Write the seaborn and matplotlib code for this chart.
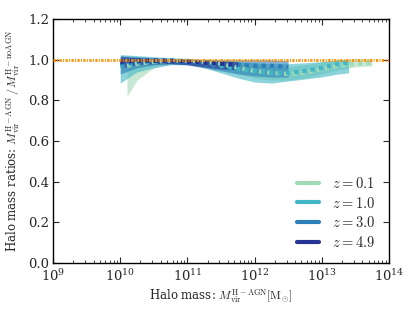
import numpy as np
import pandas as pd
import matplotlib
matplotlib.use("Agg")
import matplotlib.pyplot as plt
import seaborn as sns
from matplotlib.lines import Line2D

sns.set_style("ticks")
plt.rcParams['font.family'] = ['DejaVu Serif']
plt.rcParams['mathtext.fontset'] = 'cm'

labels = ["$z = 0.1$", "$z = 1.0$", "$z = 3.0$", "$z = 4.9$"]
colors = ["#a1dab4", "#41b6c4", "#2c7fb8", "#253494"]

logm_z01 = [10.1, 10.25, 10.5, 10.75, 11.0, 11.25, 11.5, 11.75, 12.0, 12.25, 12.5, 12.75, 13.0, 13.25, 13.5, 13.75]
med_z01 = [0.97, 0.98, 0.99, 0.995, 0.995, 0.99, 0.98, 0.96, 0.945, 0.935, 0.93, 0.935, 0.955, 0.97, 0.98, 0.985]
lo_z01 = [0.82, 0.90, 0.96, 0.98, 0.985, 0.975, 0.955, 0.93, 0.91, 0.90, 0.90, 0.91, 0.93, 0.95, 0.965, 0.97]
hi_z01 = [1.0, 1.0, 1.005, 1.005, 1.005, 1.0, 0.995, 0.985, 0.975, 0.965, 0.965, 0.975, 0.99, 1.0, 1.005, 1.005]

logm_z10 = [10.0, 10.25, 10.5, 10.75, 11.0, 11.25, 11.5, 11.75, 12.0, 12.25, 12.5, 12.75, 13.0, 13.25, 13.4]
med_z10 = [0.97, 0.985, 0.99, 0.995, 0.99, 0.985, 0.97, 0.955, 0.945, 0.935, 0.935, 0.945, 0.96, 0.98, 0.985]
lo_z10 = [0.885, 0.94, 0.96, 0.975, 0.975, 0.96, 0.935, 0.91, 0.89, 0.885, 0.895, 0.905, 0.915, 0.93, 0.935]
hi_z10 = [1.025, 1.02, 1.015, 1.01, 1.005, 1.0, 0.995, 0.99, 0.985, 0.98, 0.98, 0.985, 0.99, 1.0, 1.0]

logm_z30 = [10.0, 10.25, 10.5, 10.75, 11.0, 11.25, 11.5, 11.75, 12.0, 12.25, 12.5]
med_z30 = [0.98, 0.99, 0.995, 0.995, 0.99, 0.985, 0.98, 0.975, 0.97, 0.97, 0.965]
lo_z30 = [0.93, 0.96, 0.975, 0.98, 0.975, 0.96, 0.945, 0.93, 0.92, 0.915, 0.915]
hi_z30 = [1.02, 1.015, 1.01, 1.005, 1.005, 1.0, 1.0, 1.0, 1.0, 1.0, 0.995]

logm_z49 = [10.0, 10.25, 10.5, 10.75, 11.0, 11.25, 11.5, 11.75]
med_z49 = [0.99, 0.995, 0.995, 0.995, 0.99, 0.985, 0.98, 0.975]
lo_z49 = [0.96, 0.975, 0.98, 0.98, 0.975, 0.965, 0.955, 0.95]
hi_z49 = [1.015, 1.01, 1.005, 1.005, 1.0, 1.0, 0.995, 0.99]

series = [
    (logm_z01, med_z01, lo_z01, hi_z01),
    (logm_z10, med_z10, lo_z10, hi_z10),
    (logm_z30, med_z30, lo_z30, hi_z30),
    (logm_z49, med_z49, lo_z49, hi_z49),
]

fig = plt.figure(figsize=(4.15, 3.12), dpi=100)
ax = fig.add_axes([0.128, 0.157, 0.809, 0.782])

frames = []
for lab, (lm, md, lo, hi) in zip(labels, series):
    frames.append(pd.DataFrame({"mass": 10 ** np.array(lm), "ratio": md, "z": lab}))
df = pd.concat(frames, ignore_index=True)

for lab, col, (lm, md, lo, hi) in zip(labels, colors, series):
    ax.fill_between(10 ** np.array(lm), lo, hi, color=col, alpha=0.6, lw=0)

sns.lineplot(data=df, x="mass", y="ratio", hue="z", palette=colors, ax=ax,
             lw=3, legend=False, estimator=None, sort=True)
for ln in ax.get_lines():
    ln.set_linestyle((0, (1, 1)))
    ln.set_dash_capstyle("butt")

ax.axhline(1.0, color="#ff8c00", lw=2, linestyle=(0, (0.8, 0.5, 0.35, 0.5)), zorder=5)

ax.set_xscale("log")
ax.set_xlim(1e9, 1e14)
ax.set_ylim(0, 1.2)
ax.set_yticks([0, 0.2, 0.4, 0.6, 0.8, 1.0, 1.2])
ax.set_yticklabels(["0.0", "0.2", "0.4", "0.6", "0.8", "1.0", "1.2"])
ax.tick_params(which="both", direction="in", top=True, right=True, labelsize=9.5, pad=3)
ax.tick_params(axis="x", which="major", pad=4)
ax.tick_params(which="major", length=4)
ax.tick_params(which="minor", length=2)
for s in ax.spines.values():
    s.set_linewidth(1.0)
    s.set_color("black")

ax.set_xlabel(r"Halo mass: $M_{\rm vir}^{\rm H-AGN} [\rm M_{\odot}]$", fontsize=8.5, labelpad=2)
ax.set_ylabel(r"Halo mass ratios: $M_{\rm vir}^{\rm H-AGN}\,/\,M_{\rm vir}^{\rm H-noAGN}$", fontsize=8.5, labelpad=4)

handles = [Line2D([], [], color=c, lw=3) for c in colors]
ax.legend(handles, labels, loc="lower right", frameon=False, fontsize=10.5,
          bbox_to_anchor=(1.0, 0.0), handlelength=1.5, labelspacing=0.32,
          handletextpad=0.9)

fig.savefig("out.png", dpi=100)
